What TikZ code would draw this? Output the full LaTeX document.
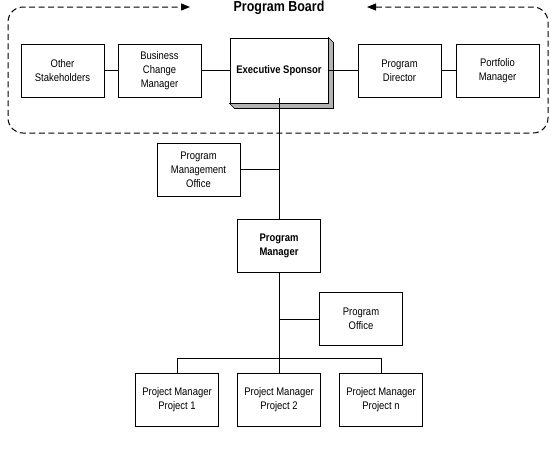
\documentclass[tikz,border=0pt]{standalone}
\usepackage{fontspec}
\setmainfont{Liberation Sans}[FakeStretch=0.86]
\usetikzlibrary{positioning, arrows.meta}

\begin{document}
\begin{tikzpicture}[x=1pt, y=-1pt,
        box/.style={draw, rectangle, line width=1pt, align=center, minimum width=83pt, minimum height=53pt, inner sep=1pt, font=\fontsize{11}{14}\selectfont},
        bigbox/.style={box, minimum width=98pt, minimum height=65pt, fill=white, font=\fontsize{11}{14}\selectfont\bfseries},
        link/.style={line width=1pt},
        frame/.style={dashed, dash pattern=on 6pt off 3.5pt, line width=1pt, rounded corners=15pt, {Triangle[length=9pt, width=7pt]}-{Triangle[length=9pt, width=7pt]}}
    ]
    \useasboundingbox (0,0) rectangle (551,451);

    % program board
    \node[font=\fontsize{14.5}{16}\selectfont\bfseries] (board) at (279,8) {Program Board};
    \node[bigbox] (sponsor) at (279,70.5) {Executive Sponsor};
    \fill[gray!60, draw=black, line width=0.6pt] (sponsor.north east) -- ([shift={(5,5)}]sponsor.north east)
        -- ([shift={(5,5)}]sponsor.south east) -- ([shift={(5,5)}]sponsor.south west)
        -- (sponsor.south west) -- (sponsor.south east) -- cycle;
    \node[box, left=28pt of sponsor] (change) {Business\\Change\\Manager};
    \node[box, left=13pt of change] (others) {Other\\Stakeholders};
    \node[box, right=29pt of sponsor] (director) {Program\\Director};
    \node[box, right=14pt of director] (portfolio) {Portfolio\\Manager};

    \draw[frame] (367,7) -- (548,7) -- (548,133) -- (8,133) -- (8,7) -- (190,7);

    % programme line
    \node[box] (pmo) at (198.5,169.5) {Program\\Management\\Office};
    \node[box, font=\fontsize{11}{14}\selectfont\bfseries] (manager) at (279,245.5) {Program\\Manager};
    \node[box] (office) at (361,319) {Program\\Office};
    \node[box] (proj1) at (177,399.5) {Project Manager\\Project 1};
    \node[box] (proj2) at (279,399.5) {Project Manager\\Project 2};
    \node[box] (projn) at (381,399.5) {Project Manager\\Project n};

    \draw[link] (others) -- (change);
    \draw[link] (change) -- (sponsor);
    \draw[link] (sponsor) -- (director);
    \draw[link] (director) -- (portfolio);
    \draw[link] ([yshift=6pt]sponsor.south) -- (manager);
    \draw[link] (pmo.east) -- (pmo.east -| manager);
    \draw[link] (manager) -- (proj2);
    \draw[link] (office.west) -- (office.west -| manager);
    \draw[link] (proj1.north) -- ++(0,-14) -| (projn.north);
\end{tikzpicture}
\end{document}
